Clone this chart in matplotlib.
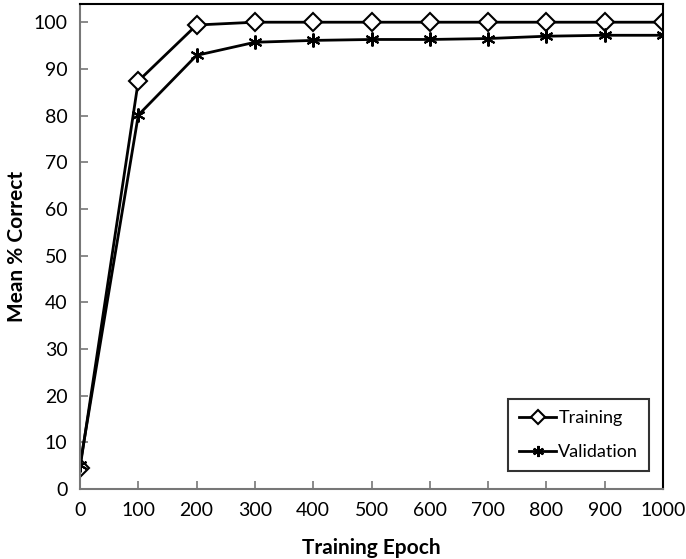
import matplotlib
matplotlib.use("Agg")
import matplotlib.pyplot as plt

epochs = [0, 100, 200, 300, 400, 500, 600, 700, 800, 900, 1000]
training = [4.5, 87.4, 99.4, 100, 100, 100, 100, 100, 100, 100, 100]
validation = [5.1, 80.1, 92.9, 95.7, 96.1, 96.3, 96.3, 96.5, 97.0, 97.2, 97.2]
xticks = list(range(0, 1001, 100))
yticks = list(range(0, 101, 10))

plt.rcParams['font.family'] = ['Lato', 'DejaVu Sans']

fig = plt.figure(figsize=(6.86, 5.59), dpi=100)
ax = fig.add_axes([80/686, 1-489/559, (663-80)/686, (489-4)/559])

ax.plot(epochs, training, color='black', lw=2, marker='D', ms=9,
        mfc='white', mec='black', mew=1.5, label='Training')
ax.plot(epochs, validation, color='black', lw=2, marker=(6, 2, 0), ms=10,
        mec='black', mew=1.5, label='Validation')

ax.set_xlim(0, 1000)
ax.set_ylim(0, 103.9)
ax.set_xticks(xticks)
ax.set_yticks(yticks)
ax.tick_params(direction='in', length=6, width=1.2, color='#777777',
               labelsize=14, pad=9)
for s in ['left', 'bottom']:
    ax.spines[s].set_color('#777777')
    ax.spines[s].set_linewidth(1.5)
for s in ['top', 'right']:
    ax.spines[s].set_color('black')
    ax.spines[s].set_linewidth(1.5)

ax.set_xlabel('Training Epoch', fontsize=15, fontweight='bold', labelpad=14)
ax.set_ylabel('Mean % Correct', fontsize=15, fontweight='bold')
ax.yaxis.set_label_coords(-53/583, 0.5)

leg = ax.legend(loc='lower right', bbox_to_anchor=(0.976, 0.037), fontsize=13,
                frameon=True, fancybox=False, edgecolor='black',
                handlelength=2.1, labelspacing=1.0, borderpad=0.6,
                handletextpad=0.1, borderaxespad=0, markerscale=0.8)
leg.get_frame().set_linewidth(1.5)

fig.savefig('out.png', dpi=100)
